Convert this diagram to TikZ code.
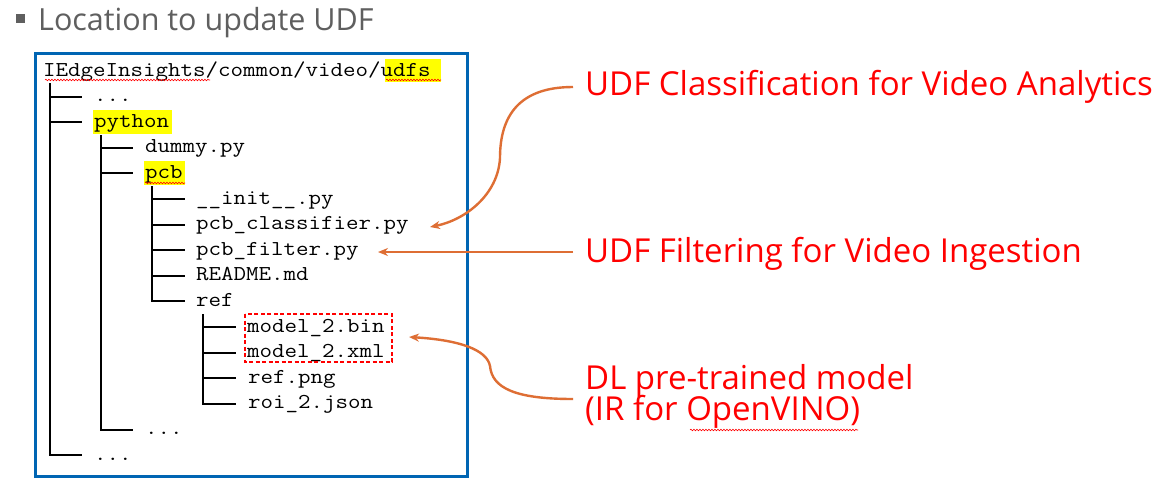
\documentclass[tikz,border=0pt]{standalone}
\usepackage{fontspec}
\usepackage{graphicx}
\setmainfont{Open Sans}
\newfontfamily\labfont{Open Sans}
\newfontfamily\titlefont{Open Sans}
\usetikzlibrary{arrows.meta,decorations.pathmorphing}
\definecolor{boxblue}{RGB}{0,101,179}
\definecolor{arrorange}{RGB}{222,110,52}
\definecolor{titlegray}{RGB}{95,95,95}
\definecolor{hl}{RGB}{255,255,0}
\definecolor{labred}{RGB}{255,0,0}
\newcommand{\treetxt}[1]{\scalebox{1.145}[1]{#1}}
\begin{document}
\begin{tikzpicture}[x=1pt,y=-1pt,
  tree/.style={anchor=base west, inner sep=0pt, font=\fontsize{21.2}{21.2}\selectfont\ttfamily},
  branch/.style={line width=1.8pt, draw=black},
  lab/.style={anchor=base west, inner sep=0pt, text=labred, font=\fontsize{33}{33}\selectfont\labfont},
  conn/.style={draw=arrorange, line width=2.4pt, -{Stealth[length=10pt,width=8pt]}},
  squig/.style={draw=red, line width=0.6pt, decorate, decoration={snake, amplitude=0.8pt, segment length=3pt}},
  hlbox/.style={fill=hl, draw=none}]
\useasboundingbox[fill=white] (0,0) rectangle (1167,488);
% title
\fill[titlegray] (16,14) rectangle (25,23);
\node[anchor=base west, inner sep=0pt, text=titlegray, font=\fontsize{30.5}{30.5}\selectfont\titlefont] (title) at (38,30) {Location to update UDF};
% frame
\draw[boxblue, line width=3pt] (35,53) rectangle (467,476);
% highlights
\fill[hlbox] (385,59) rectangle (441,82);
\fill[hlbox] (93,110) rectangle (172,134);
\fill[hlbox] (144,161) rectangle (185,185);
% tree text
\node[tree] (root) at (43,76) {\treetxt{IEdgeInsights/common/video/udfs}};
\node[tree] (d1) at (94,101.6) {\treetxt{...}};
\node[tree] (python) at (94,127.2) {\treetxt{python}};
\node[tree] (dummy) at (145,152.8) {\treetxt{dummy.py}};
\node[tree] (pcb) at (145,178.4) {\treetxt{pcb}};
\node[tree] (init) at (196,204) {\treetxt{\_\_init\_\_.py}};
\node[tree] (cls) at (196,229.6) {\treetxt{pcb\_classifier.py}};
\node[tree] (flt) at (196,255.2) {\treetxt{pcb\_filter.py}};
\node[tree] (readme) at (196,280.8) {\treetxt{README.md}};
\node[tree] (ref) at (196,306.4) {\treetxt{ref}};
\node[tree] (bin) at (247,332) {\treetxt{model\_2.bin}};
\node[tree] (xml) at (247,357.6) {\treetxt{model\_2.xml}};
\node[tree] (png) at (248,383.2) {\treetxt{ref.png}};
\node[tree] (roi) at (248,408.8) {\treetxt{roi\_2.json}};
\node[tree] (d2) at (145,434.4) {\treetxt{...}};
\node[tree] (d3) at (94,460) {\treetxt{...}};
% tree branches
\draw[branch] (50,83) -- (50,455) -- (82,455);
\draw[branch] (50,97) -- (82,97);
\draw[branch] (50,122) -- (82,122);
\draw[branch] (101,135) -- (101,430) -- (133,430);
\draw[branch] (101,148) -- (133,148);
\draw[branch] (101,173) -- (133,173);
\draw[branch] (152,186) -- (152,301) -- (185,301);
\draw[branch] (152,199) -- (185,199);
\draw[branch] (152,224.6) -- (185,224.6);
\draw[branch] (152,250.2) -- (185,250.2);
\draw[branch] (152,275.8) -- (185,275.8);
\draw[branch] (203,314) -- (203,404) -- (236,404);
\draw[branch] (203,327) -- (236,327);
\draw[branch] (203,352.6) -- (236,352.6);
\draw[branch] (203,378.2) -- (236,378.2);
% spell-check squiggles
\draw[squig] (45,80) -- (210,80);
\draw[squig] (386,80) -- (441,80);
\draw[squig] (145,183) -- (185,183);
% dashed box
\draw[red, dashed, line width=1.6pt, dash pattern=on 4pt off 2.5pt] (245,314) rectangle (392,362);
% labels
\node[lab] (lab1) at (585,95) {UDF Classification for Video Analytics};
\node[lab] (lab2) at (585,262) {UDF Filtering for Video Ingestion};
\node[lab] (lab3) at (585,389) {DL pre-trained model};
\node[lab] (lab4) at (585,420) {(IR for OpenVINO)};
\draw[squig] (690,430) -- (858,430);
% arrows
\coordinate (s1) at (573,87);
\coordinate (t1) at (430,227);
\coordinate (s2) at (573,252);
\coordinate (t2) at (378,252);
\coordinate (s3) at (573,399);
\coordinate (t3) at (409,337);
\draw[conn] (s1) .. controls (520,87) and (500,115) .. (500,158) .. controls (498,195) and (465,220) .. (t1);
\draw[conn] (s2) -- (t2);
\draw[conn] (s3) .. controls (515,399) and (492,388) .. (490,366) .. controls (487,350) and (460,340) .. (t3);
\end{tikzpicture}
\end{document}
